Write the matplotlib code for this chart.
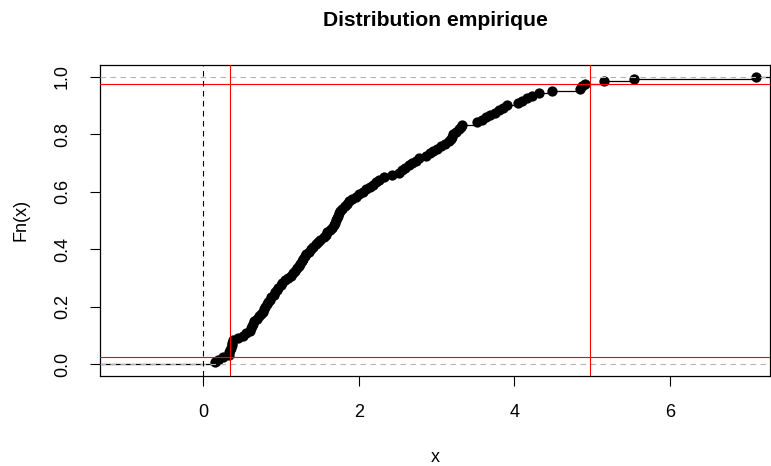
import matplotlib
matplotlib.use("Agg")
import matplotlib.pyplot as plt
import numpy as np

plt.rcParams['font.family'] = ['Liberation Sans', 'DejaVu Sans']

# sorted sample
x_sorted = [
    0.15, 0.19, 0.26, 0.33, 0.34, 0.35, 0.36, 0.37, 0.38, 0.39,
    0.45, 0.51, 0.55, 0.60, 0.62, 0.63, 0.65, 0.66, 0.69, 0.72,
    0.75, 0.77, 0.78, 0.80, 0.82, 0.84, 0.86, 0.88, 0.91, 0.92,
    0.95, 0.97, 1.00, 1.02, 1.06, 1.09, 1.13, 1.16, 1.18, 1.21,
    1.23, 1.25, 1.27, 1.29, 1.31, 1.33, 1.36, 1.39, 1.42, 1.45,
    1.48, 1.51, 1.55, 1.58, 1.60, 1.63, 1.66, 1.68, 1.70, 1.71,
    1.72, 1.74, 1.75, 1.76, 1.79, 1.82, 1.85, 1.88, 1.92, 1.96,
    2.01, 2.05, 2.10, 2.15, 2.19, 2.22, 2.26, 2.33, 2.43, 2.52,
    2.56, 2.60, 2.64, 2.68, 2.73, 2.78, 2.87, 2.91, 2.95, 3.00,
    3.06, 3.11, 3.16, 3.18, 3.20, 3.21, 3.25, 3.29, 3.31, 3.33,
    3.52, 3.58, 3.64, 3.69, 3.75, 3.80, 3.85, 3.91, 4.04, 4.10,
    4.16, 4.23, 4.31, 4.48, 4.84, 4.87, 4.91, 5.15, 5.54, 7.10,
]

# 95% bounds
alpha_levels = [0.025, 0.975]
x_bounds = [0.344, 4.967]

xticks = [0, 2, 4, 6]
yticks = [0.0, 0.2, 0.4, 0.6, 0.8, 1.0]

W, H = 771, 466
fig = plt.figure(figsize=(W / 100, H / 100), dpi=100)
# plot region in pixels: left 100, right 770, top 65, bottom 376
ax = fig.add_axes([100 / W, (H - 376) / H, 670 / W, 311 / H])
xlim = (-1.32, 7.28)
ylim = (-0.04, 1.04)

x = np.array(x_sorted)
n = len(x)
Fn = np.arange(1, n + 1) / n

# horizontal steps of the ecdf
left = np.concatenate([[xlim[0]], x])
right = np.concatenate([x, [xlim[1]]])
levels = np.concatenate([[0.0], Fn])
ax.hlines(levels, left, right, colors='black', linewidth=0.9, zorder=2)
ax.plot(x, Fn, 'o', color='black', markersize=7.4, markeredgewidth=0, zorder=3)

# reference lines at 0 and 1
for h in [0, 1]:
    ax.axhline(h, color='#B3B3B3', linewidth=0.8, linestyle=(0, (5, 4)), zorder=4)

for a in alpha_levels:
    ax.axhline(a, color='red', linewidth=0.8, zorder=5)
for b in x_bounds:
    ax.axvline(b, color='red', linewidth=0.8, zorder=5)
ax.axvline(0, color='black', linewidth=0.8, linestyle=(0, (5, 4)), zorder=5)

ax.set_xlim(*xlim)
ax.set_ylim(*ylim)
ax.set_xticks(xticks)
ax.set_xticklabels([str(t) for t in xticks])
ax.set_yticks(yticks)
ax.set_yticklabels([f"{t:.1f}" for t in yticks], rotation=90, va='center')
ax.tick_params(axis='both', direction='out', length=7, width=0.8,
               labelsize=13, color='black')
ax.tick_params(axis='x', pad=13)
ax.tick_params(axis='y', pad=14)
for s in ax.spines.values():
    s.set_linewidth(0.9)
    s.set_color('black')

fig.text(435 / W, 1 - 21 / H, 'Distribution empirique', ha='center', va='center',
         fontsize=15.2, fontweight='bold')
fig.text(435 / W, 1 - 458 / H, 'x', ha='center', va='center', fontsize=13)
fig.text(21 / W, 1 - 220 / H, 'Fn(x)', ha='center', va='center', fontsize=13,
         rotation=90)

fig.savefig('out.png', dpi=100)
